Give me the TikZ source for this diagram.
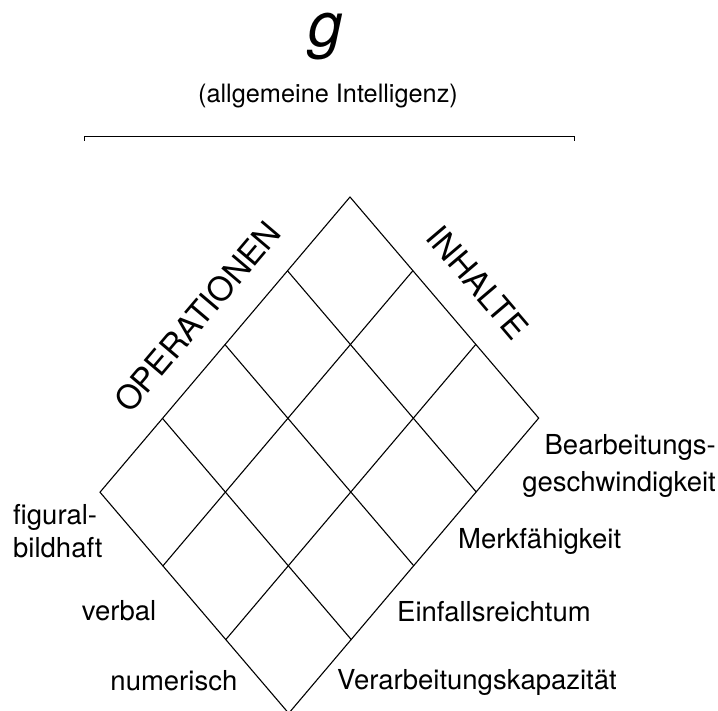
\documentclass[tikz,border=0pt]{standalone}
\usepackage{fontspec}
\setmainfont{TeX Gyre Heros}
\begin{document}
\begin{tikzpicture}[x=1pt,y=-1pt,
  lbl/.style={inner sep=0pt, font=\fontsize{27.5}{33}\selectfont},
  axis/.style={inner sep=0pt, font=\fontsize{33}{36}\selectfont},
  gridline/.style={line width=1.1pt, line cap=round, line join=round}]
\useasboundingbox (0,0) rectangle (718,711);
% grid corner coordinates
\foreach \i in {0,...,4}{
  \foreach \j in {0,...,3}{
    \coordinate (p\i\j) at ({350-62.5*\i+62.9*\j},{197+73.8*\i+73.7*\j});
  }
}
\foreach \i in {0,...,4}{\draw[gridline] (p\i0) -- (p\i3);}
\foreach \j in {0,...,3}{\draw[gridline] (p0\j) -- (p4\j);}
% title
\node[inner sep=0pt, anchor=base, font=\fontsize{62}{62}\selectfont\itshape] (g) at (326,47) {g};
\node[inner sep=0pt, anchor=base, font=\fontsize{25.3}{30}\selectfont] (gsub) at (328,103) {(allgemeine Intelligenz)};
\coordinate (brL) at (84,141);
\coordinate (brR) at (574,141);
\draw[line width=1pt] (brL) -- ++(0,-4.5) -| (brR);
% axis labels
\node[axis, rotate=49.7] (ops) at (197.5,316.5) {OPERATIONEN};
\node[axis, rotate=-49.6] (inh) at (478,282.5) {INHALTE};
% left labels
\node[lbl, anchor=base west, align=left, font=\fontsize{27.5}{33}\selectfont] (fig) at (13,557.3) {figural-\\bildhaft};
\node[lbl, anchor=base east] (verb) at (156.5,620) {verbal};
\node[lbl, anchor=base east] (num) at (237.5,690) {numerisch};
% right labels
\node[lbl, anchor=base east, align=right, font=\fontsize{27.5}{36.3}\selectfont] (bear) at (716,491) {Bearbeitungs-\\geschwindigkeit};
\node[lbl, anchor=base west] (merk) at (458,548.3) {Merkfähigkeit};
\node[lbl, anchor=base west] (einf) at (397,621) {Einfallsreichtum};
\node[lbl, anchor=base west] (verar) at (337,689.3) {Verarbeitungskapazität};
\end{tikzpicture}
\end{document}
